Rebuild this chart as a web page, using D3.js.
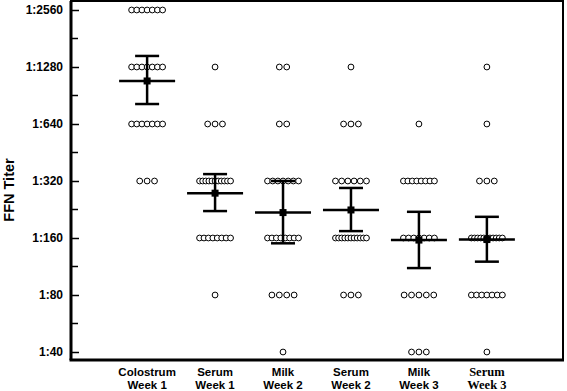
<!DOCTYPE html>
<html lang="en">
<head>
<meta charset="utf-8">
<title>FFN titer</title>
<script src="https://d3js.org/d3.v7.min.js"></script>
<style>
  body { margin: 0; background: #fff; }
  .tlabel { font-family: "Liberation Sans", Arial, sans-serif; font-weight: bold; font-size: 12px; }
  .xlabel { font-family: "Liberation Sans", Arial, sans-serif; font-weight: bold; font-size: 11.5px; }
</style>
</head>
<body>
<div id="chart"></div>
<script>

// groups on the x axis (two-line labels)
var groups = ["Colostrum|Week 1", "Serum|Week 1", "Milk|Week 2", "Serum|Week 2", "Milk|Week 3", "Serum|Week 3"];

// titer levels (reciprocal) and tick labels
var titers = [40, 80, 160, 320, 640, 1280, 2560];
var tickLabels = ["1:40", "1:80", "1:160", "1:320", "1:640", "1:1280", "1:2560"];

// number of samples at each titer level, per group (same order as titers)
var colostrumW1 = [0, 0, 0, 3, 7, 7, 7];
var serumW1     = [0, 1, 8, 11, 3, 1, 0];
var milkW2      = [1, 4, 8, 7, 2, 2, 0];
var serumW2     = [0, 3, 11, 6, 3, 1, 0];
var milkW3      = [3, 5, 7, 8, 1, 0, 0];
var serumW3     = [1, 7, 11, 3, 1, 1, 0];
var counts = [colostrumW1, serumW1, milkW2, serumW2, milkW3, serumW3];

// geometric means and error bar ends (reciprocal titer)
var means   = [1080, 276, 218, 225, 156, 157];
var errHigh = [1464, 348, 320, 294, 220, 207];
var errLow  = [816, 222, 150, 174, 111, 120];

var width = 567, height = 391;
var frame = {left: 71, right: 563, top: 1, bottom: 360};

var svg = d3.select("#chart").append("svg")
  .attr("width", width)
  .attr("height", height);

var y = d3.scaleLog().base(2)
  .domain([40, 2560])
  .range([352, 10]);

var x = d3.scalePoint()
  .domain(groups)
  .range([frame.left, frame.right])
  .padding(1.12);

// frame
svg.append("rect")
  .attr("x", frame.left).attr("y", frame.top)
  .attr("width", frame.right - frame.left)
  .attr("height", frame.bottom - frame.top)
  .attr("fill", "none")
  .attr("stroke", "#000")
  .attr("stroke-width", 2);

// heavier left and bottom axes
svg.append("line")
  .attr("x1", frame.left).attr("x2", frame.left)
  .attr("y1", frame.top).attr("y2", frame.bottom)
  .attr("stroke", "#000").attr("stroke-width", 3);
svg.append("line")
  .attr("x1", frame.left - 1.5).attr("x2", frame.right + 1)
  .attr("y1", frame.bottom).attr("y2", frame.bottom)
  .attr("stroke", "#000").attr("stroke-width", 3);

// y ticks, drawn inward, with minor ticks halfway on the log scale
var yAxis = d3.axisRight(y)
  .tickValues(titers)
  .tickSize(8)
  .tickFormat("");
var yg = svg.append("g")
  .attr("transform", "translate(" + frame.left + ",0)")
  .call(yAxis);
yg.select(".domain").remove();
yg.selectAll(".tick line").attr("stroke-width", 1.5);

var minors = titers.slice(0, -1).map(function(t) { return t * Math.SQRT2; });
svg.selectAll(".minor")
  .data(minors)
  .enter().append("line")
  .attr("class", "minor")
  .attr("x1", frame.left).attr("x2", frame.left + 7)
  .attr("y1", function(d) { return y(d); })
  .attr("y2", function(d) { return y(d); })
  .attr("stroke", "#000").attr("stroke-width", 1.5);

svg.selectAll(".ylab")
  .data(titers)
  .enter().append("text")
  .attr("class", "tlabel")
  .attr("x", 63)
  .attr("y", function(d) { return y(d) + 4; })
  .attr("text-anchor", "end")
  .text(function(d, i) { return tickLabels[i]; });

// y axis title
svg.append("text")
  .attr("class", "tlabel")
  .attr("transform", "translate(14,190) rotate(-90)")
  .attr("text-anchor", "middle")
  .style("font-size", "14.5px")
  .text("FFN Titer");

// x labels, two lines each
groups.forEach(function(g, i) {
  var parts = g.split("|");
  var t = svg.append("text")
    .attr("class", "xlabel")
    .attr("text-anchor", "middle");
  if (i == 5) {
    t.style("font-family", "'Liberation Serif', 'Times New Roman', serif")
     .style("font-size", "12.5px");
  }
  t.append("tspan").attr("x", x(g)).attr("y", 376).text(parts[0]);
  t.append("tspan").attr("x", x(g)).attr("y", 389).text(parts[1]);
});

// dot rows
var dots = [];
groups.forEach(function(g, gi) {
  counts[gi].forEach(function(n, ti) {
    if (n == 0) return;
    var step = n > 1 ? Math.min(7.4, 31 / (n - 1)) : 0;
    for (var k = 0; k < n; k++) {
      dots.push({g: g, titer: titers[ti], off: (k - (n - 1) / 2) * step});
    }
  });
});

svg.selectAll(".dot")
  .data(dots)
  .enter().append("circle")
  .attr("class", "dot")
  .attr("cx", function(d) { return x(d.g) + d.off; })
  .attr("cy", function(d) { return y(d.titer); })
  .attr("r", 2.9)
  .attr("fill", "#fff")
  .attr("stroke", "#000")
  .attr("stroke-width", 1);

// mean and error bars
var stats = groups.map(function(g, i) {
  return {g: g, mean: means[i], hi: errHigh[i], lo: errLow[i]};
});

var bars = svg.selectAll(".stat")
  .data(stats)
  .enter().append("g")
  .attr("class", "stat");

bars.append("line")
  .attr("x1", function(d) { return x(d.g); })
  .attr("x2", function(d) { return x(d.g); })
  .attr("y1", function(d) { return y(d.hi); })
  .attr("y2", function(d) { return y(d.lo); })
  .attr("stroke", "#000").attr("stroke-width", 2.5);

bars.selectAll(".cap")
  .data(function(d) { return [{g: d.g, v: d.hi}, {g: d.g, v: d.lo}]; })
  .enter().append("line")
  .attr("x1", function(d) { return x(d.g) - 12; })
  .attr("x2", function(d) { return x(d.g) + 12; })
  .attr("y1", function(d) { return y(d.v); })
  .attr("y2", function(d) { return y(d.v); })
  .attr("stroke", "#000").attr("stroke-width", 2.5);

bars.append("line")
  .attr("x1", function(d) { return x(d.g) - 28; })
  .attr("x2", function(d) { return x(d.g) + 28; })
  .attr("y1", function(d) { return y(d.mean); })
  .attr("y2", function(d) { return y(d.mean); })
  .attr("stroke", "#000").attr("stroke-width", 2.5);

bars.append("rect")
  .attr("x", function(d) { return x(d.g) - 3.5; })
  .attr("y", function(d) { return y(d.mean) - 3.5; })
  .attr("width", 7).attr("height", 7)
  .attr("fill", "#000");

</script>
</body>
</html>
